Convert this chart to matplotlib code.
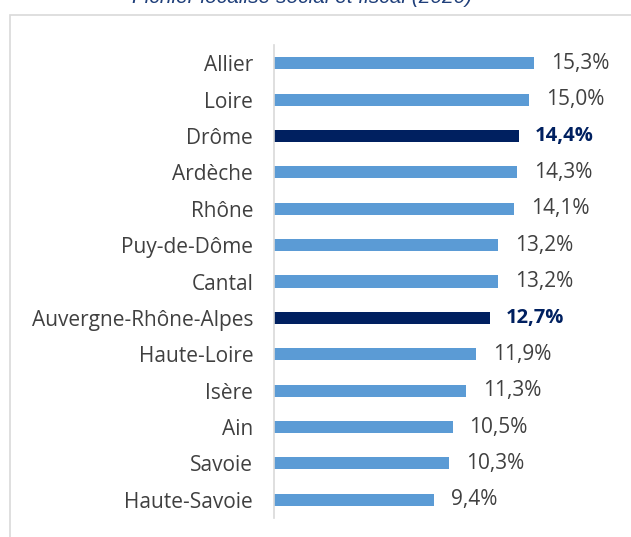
import matplotlib.pyplot as plt
from matplotlib.patches import Rectangle

# data, top to bottom
territoires = ['Allier', 'Loire', 'Drôme', 'Ardèche', 'Rhône', 'Puy-de-Dôme', 'Cantal',
               'Auvergne-Rhône-Alpes', 'Haute-Loire', 'Isère', 'Ain', 'Savoie', 'Haute-Savoie']
taux = [15.3, 15.0, 14.4, 14.3, 14.1, 13.2, 13.2, 12.7, 11.9, 11.3, 10.5, 10.3, 9.4]
en_gras = ['Drôme', 'Auvergne-Rhône-Alpes']

light = '#5B9BD5'
dark = '#002060'
grey = '#404040'
plt.rcParams['font.family'] = ['Open Sans', 'DejaVu Sans']

fig = plt.figure(figsize=(6.31, 5.37), dpi=100)

# outer frame
fig.patches.append(Rectangle((10/631, -0.1), 1.0, 1 - 15/537 + 0.1, transform=fig.transFigure,
                             fill=False, edgecolor='#D9D9D9', linewidth=1.2))

fig.text(302/631, 1 - 3/537, 'Fichier localisé social et fiscal (2020)', ha='center', va='baseline',
         fontsize=15, style='italic', color='#1F3F7A', family='Liberation Sans')

ax = fig.add_axes([274/631, 19/537, 357/631, 473/537])
ax.patch.set_alpha(0)
n = len(territoires)
ypos = list(range(n))
colors = [dark if t in en_gras else light for t in territoires]
ax.barh(ypos, taux, height=0.33, color=colors)
ax.set_ylim(n - 0.5, -0.5)
ax.set_xlim(0, 357/17.0)

for y, v, t in zip(ypos, taux, territoires):
    lbl = ('%.1f' % v).replace('.', ',') + '%'
    if t in en_gras:
        ax.text(v + 0.95, y, lbl, va='center', ha='left', fontsize=14.5, color=dark, fontweight='bold')
    else:
        ax.text(v + 1.0, y, lbl, va='center', ha='left', fontsize=15, color=grey)

ax.set_yticks(ypos)
ax.set_yticklabels(territoires, fontsize=15, color=grey)
ax.tick_params(axis='y', length=0, pad=15)
ax.set_xticks([])
for s in ['top', 'right', 'bottom']:
    ax.spines[s].set_visible(False)
ax.spines['left'].set_color('#D9D9D9')
ax.spines['left'].set_linewidth(1.2)

fig.savefig('out.png', dpi=100)
